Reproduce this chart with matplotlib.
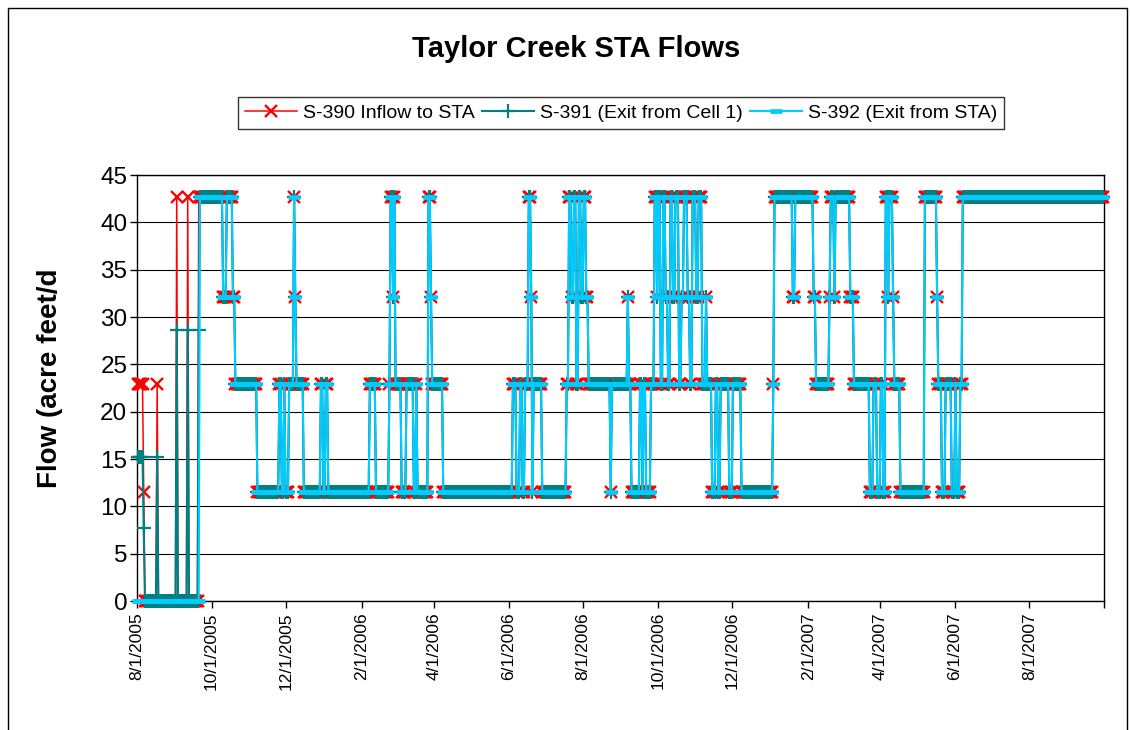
import matplotlib
matplotlib.use("Agg")
import matplotlib.pyplot as plt
import matplotlib.dates as mdates
from matplotlib.patches import Rectangle
from matplotlib.ticker import FixedLocator, FixedFormatter
import pandas as pd

plt.rcParams['font.family'] = ['Liberation Sans', 'DejaVu Sans']

# ---- data: daily flows stored as runs (date the level changes -> new level, acre feet/day)
period_start = "2005-08-01"
period_end = "2007-09-30"

s390_change_dates = ["2005-08-01", "2005-08-06", "2005-08-07", "2005-08-17", "2005-08-18",
                     "2005-09-02", "2005-09-03", "2005-09-11", "2005-09-12", "2005-09-20"]
s390_change_values = [22.9, 11.5, 0, 22.9, 0, 42.7, 0, 42.7, 0, 42.7]

s391_change_dates = ["2005-08-01", "2005-08-06", "2005-08-07", "2005-08-17", "2005-08-18",
                     "2005-09-02", "2005-09-03", "2005-09-11", "2005-09-12", "2005-09-20"]
s391_change_values = [15.2, 7.7, 0, 15.2, 0, 28.6, 0, 28.6, 0, 28.6]

s392_change_dates = ["2005-08-01"]
s392_change_values = [0]

# from late September 2005 all three structures report the same daily level
shared_change_dates = [
    "2005-09-21", "2005-10-10", "2005-10-13", "2005-10-18", "2005-10-20", "2005-11-07",
    "2005-11-25", "2005-11-27", "2005-11-29", "2005-11-30", "2005-12-03", "2005-12-07",
    "2005-12-08", "2005-12-09", "2005-12-15", "2005-12-29", "2005-12-31", "2006-01-02",
    "2006-01-04", "2006-02-07", "2006-02-12", "2006-02-23", "2006-02-24", "2006-02-26",
    "2006-02-27", "2006-02-28", "2006-03-05", "2006-03-09", "2006-03-15", "2006-03-17",
    "2006-03-18", "2006-03-27", "2006-03-29", "2006-03-30", "2006-04-08", "2006-06-04",
    "2006-06-07", "2006-06-10", "2006-06-12", "2006-06-14", "2006-06-17", "2006-06-19",
    "2006-06-20", "2006-06-21", "2006-06-28", "2006-07-18", "2006-07-20", "2006-07-22",
    "2006-07-24", "2006-07-26", "2006-07-28", "2006-07-30", "2006-08-01", "2006-08-03",
    "2006-08-05", "2006-08-23", "2006-08-24", "2006-09-06", "2006-09-07", "2006-09-09",
    "2006-09-16", "2006-09-18", "2006-09-19", "2006-09-21", "2006-09-25", "2006-09-28",
    "2006-09-30", "2006-10-01", "2006-10-03", "2006-10-05", "2006-10-07", "2006-10-09",
    "2006-10-11", "2006-10-13", "2006-10-15", "2006-10-18", "2006-10-20", "2006-10-22",
    "2006-10-25", "2006-10-27", "2006-10-29", "2006-11-01", "2006-11-03", "2006-11-06",
    "2006-11-09", "2006-11-10", "2006-11-14", "2006-11-17", "2006-11-19", "2006-11-21",
    "2006-11-28", "2006-12-01", "2006-12-08", "2007-01-03", "2007-01-04", "2007-01-19",
    "2007-01-21", "2007-02-05", "2007-02-07", "2007-02-18", "2007-02-19", "2007-02-22",
    "2007-02-23", "2007-03-07", "2007-03-10", "2007-03-23", "2007-03-26", "2007-03-29",
    "2007-04-01", "2007-04-03", "2007-04-05", "2007-04-07", "2007-04-08", "2007-04-11",
    "2007-04-12", "2007-04-17", "2007-05-07", "2007-05-17", "2007-05-18", "2007-05-21",
    "2007-05-24", "2007-05-29", "2007-06-01", "2007-06-02", "2007-06-05", "2007-06-07",
]
shared_change_values = [
    42.7, 32.1, 42.7, 32.1, 22.9, 11.5,
    22.9, 11.5, 22.9, 11.5, 22.9, 42.7,
    32.1, 22.9, 11.5, 22.9, 11.5, 22.9,
    11.5, 22.9, 11.5, 22.9, 42.7, 32.1,
    42.7, 22.9, 11.5, 22.9, 11.5, 22.9,
    11.5, 42.7, 32.1, 22.9, 11.5, 22.9,
    11.5, 22.9, 11.5, 22.9, 42.7, 32.1,
    11.5, 22.9, 11.5, 22.9, 42.7, 32.1,
    42.7, 22.9, 42.7, 32.1, 42.7, 32.1,
    22.9, 11.5, 22.9, 32.1, 22.9, 11.5,
    22.9, 11.5, 22.9, 11.5, 22.9, 42.7,
    32.1, 42.7, 22.9, 42.7, 32.1, 22.9,
    42.7, 32.1, 42.7, 22.9, 32.1, 42.7,
    32.1, 22.9, 42.7, 32.1, 42.7, 22.9,
    32.1, 22.9, 11.5, 22.9, 11.5, 22.9,
    11.5, 22.9, 11.5, 22.9, 42.7, 32.1,
    42.7, 32.1, 22.9, 32.1, 42.7, 32.1,
    42.7, 32.1, 22.9, 11.5, 22.9, 11.5,
    22.9, 11.5, 42.7, 32.1, 42.7, 32.1,
    22.9, 11.5, 42.7, 32.1, 22.9, 11.5,
    22.9, 11.5, 22.9, 11.5, 22.9, 42.7,
]

tick_dates = ["2005-08-01", "2005-10-01", "2005-12-01", "2006-02-01", "2006-04-01",
              "2006-06-01", "2006-08-01", "2006-10-01", "2006-12-01", "2007-02-01",
              "2007-04-01", "2007-06-01", "2007-08-01", "2007-10-01"]
tick_labels = ["8/1/2005", "10/1/2005", "12/1/2005", "2/1/2006", "4/1/2006",
               "6/1/2006", "8/1/2006", "10/1/2006", "12/1/2006", "2/1/2007",
               "4/1/2007", "6/1/2007", "8/1/2007", ""]

series_names = ["S-390 Inflow to STA", "S-391 (Exit from Cell 1)", "S-392 (Exit from STA)"]

days = pd.date_range(period_start, period_end, freq="D")


def daily_levels(change_dates, change_values):
    s = pd.Series(change_values, index=pd.to_datetime(change_dates))
    return s.reindex(days, method="ffill").to_numpy()


s390 = daily_levels(s390_change_dates + shared_change_dates, s390_change_values + shared_change_values)
s391 = daily_levels(s391_change_dates + shared_change_dates, s391_change_values + shared_change_values)
s392 = daily_levels(s392_change_dates + shared_change_dates, s392_change_values + shared_change_values)

# each day is plotted in the middle of its slot on the date axis
x = days + pd.Timedelta(hours=12)

W, H = 1130, 730
fig = plt.figure(figsize=(W / 100, H / 100), dpi=100)
fig.patch.set_facecolor("white")

# chart border
fig.patches.append(Rectangle((8 / W, -0.02), (1127 - 8) / W, 1.02 - 8 / H,
                             transform=fig.transFigure, fill=False, edgecolor="black",
                             linewidth=1.0))

ax = fig.add_axes([137 / W, (H - 601) / H, (1104 - 137) / W, (601 - 175) / H])

ax.plot(x, s390, color="#FF0000", lw=1.1, marker="x", ms=8.5, mew=1.7,
        label=series_names[0], clip_on=False, zorder=3)
ax.plot(x, s391, color="#008080", lw=1.5, marker="+", ms=9.5, mew=1.6,
        label=series_names[1], clip_on=False, zorder=4)
ax.plot(x, s392, color="#00CCFF", lw=1.5, marker="_", ms=8.5, mew=3.4,
        label=series_names[2], clip_on=False, zorder=5)

ax.set_xlim(pd.Timestamp("2005-08-01"), pd.Timestamp("2007-10-01"))
ax.set_ylim(0, 45)
ax.set_yticks(range(0, 46, 5))
ax.yaxis.grid(True, color="black", lw=0.8)
ax.set_axisbelow(True)

tick_pos = [mdates.date2num(pd.Timestamp(d)) for d in tick_dates]
ax.xaxis.set_major_locator(FixedLocator(tick_pos))
ax.xaxis.set_major_formatter(FixedFormatter(tick_labels))

ax.tick_params(axis="y", labelsize=17.5, length=5, width=1, direction="out", pad=2)
ax.tick_params(axis="x", labelsize=12.5, length=5, width=1, direction="out",
               labelrotation=90, pad=3)
for sp in ax.spines.values():
    sp.set_color("black")
    sp.set_linewidth(1.0)

fig.text(576 / W, 1 - 49 / H, "Taylor Creek STA Flows", ha="center", va="center",
         fontsize=21, fontweight="bold")
fig.text(50 / W, 1 - 378 / H, "Flow (acre feet/d", ha="center", va="center",
         rotation=90, fontsize=20, fontweight="bold")

leg = fig.legend(loc="center", bbox_to_anchor=(621 / W, 1 - 113 / H), ncol=3,
                 fontsize=14, frameon=True, fancybox=False, edgecolor="black",
                 handlelength=2.7, handletextpad=0.3, columnspacing=0.35,
                 borderpad=0.35)
leg.get_frame().set_linewidth(1.0)

fig.savefig("out.png", dpi=100, facecolor="white")
